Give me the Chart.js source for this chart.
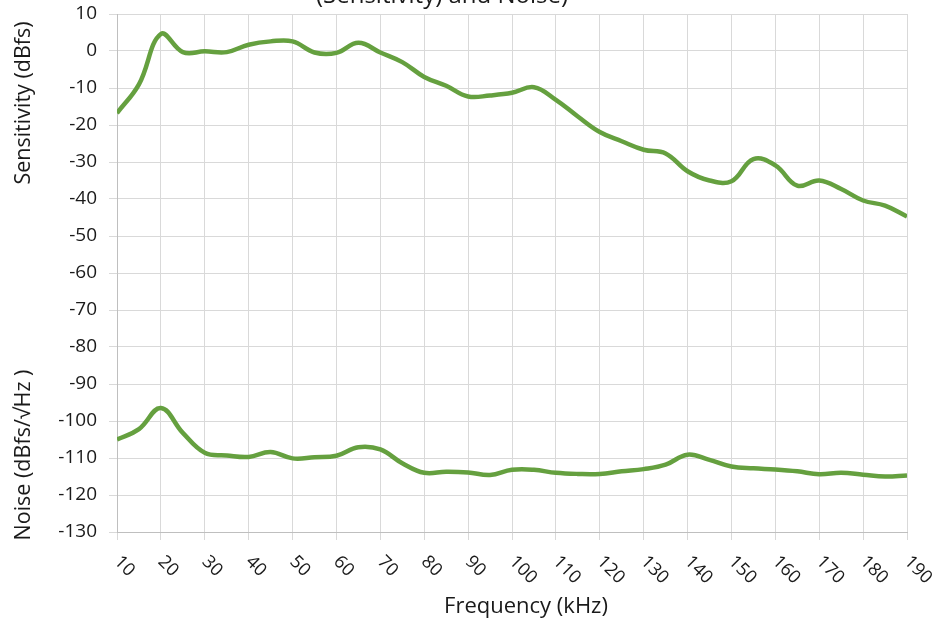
<!DOCTYPE html>
<html lang="en">
<head>
    <meta charset="UTF-8">
    <title>Sensitivity and Noise</title>
    <script src="https://cdn.jsdelivr.net/npm/chart.js@4.4.1/dist/chart.umd.min.js"></script>
    <style>
        html, body { margin: 0; padding: 0; background: #fff; overflow: hidden; }
        #wrap { width: 936px; height: 626px; position: relative; }
    </style>
</head>
<body>
<div id="wrap"><canvas id="myChart"></canvas></div>

<script>
    // frequency points (kHz)
    const freqs = [10, 15, 20, 25, 30, 35, 40, 45, 50, 55, 60, 65, 70, 75, 80, 85, 90, 95, 100,
                   105, 110, 115, 120, 125, 130, 135, 140, 145, 150, 155, 160, 165, 170, 175, 180, 185, 190];

    // sensitivity (dBfs)
    const sensitivity = [-16.8, -9.0, 4.6, -0.3, -0.1, -0.3, 1.7, 2.6, 2.6, -0.4, -0.5, 2.2, -0.4, -3.0, -7.0, -9.4, -12.3, -12.0, -11.3,
                         -9.8, -13.2, -17.7, -21.9, -24.4, -26.7, -27.7, -32.5, -35.0, -35.2, -29.2, -30.9, -36.4, -35.0, -37.3, -40.4, -41.8, -44.7];

    // noise (dBfs/sqrt(Hz))
    const noise = [-105.0, -102.2, -96.5, -103.2, -108.6, -109.3, -109.7, -108.4, -110.1, -109.8, -109.4, -107.1, -107.7, -111.4, -114.0, -113.7, -113.9, -114.6, -113.2,
                   -113.2, -114.0, -114.3, -114.3, -113.6, -113.0, -111.8, -109.1, -110.5, -112.3, -112.8, -113.1, -113.6, -114.4, -114.0, -114.5, -115.0, -114.7];

    const xTickLabels = [10, 20, 30, 40, 50, 60, 70, 80, 90, 100, 110, 120, 130, 140, 150, 160, 170, 180, 190];

    const chartTitle = '(Sensitivity) and Noise)';
    const sensTitle = 'Sensitivity (dBfs)';
    const noiseTitle = 'Noise (dBfs/\u221AHz )';
    const xTitle = 'Frequency (kHz)';

    const lineColor = '#65a03f';
    const textColor = '#1a1a1a';
    const fontFamily = '"Open Sans", "Liberation Sans", sans-serif';

    function toPoints(ys) {
        return freqs.map((f, i) => ({ x: f, y: ys[i] }));
    }

    // draws the texts that chart.js can't place the way the reference does
    const textPlugin = {
        id: 'extraText',
        afterDraw(chart) {
            const ctx = chart.ctx;
            const xs = chart.scales.x;
            ctx.save();
            ctx.fillStyle = textColor;

            // cut off title at top
            ctx.font = '24px ' + fontFamily;
            ctx.textAlign = 'center';
            ctx.textBaseline = 'alphabetic';
            ctx.fillText(chartTitle, 442, 3);

            // x title
            ctx.font = '22px ' + fontFamily;
            ctx.textBaseline = 'middle';
            ctx.fillText(xTitle, 526, 607);

            // two y titles
            ctx.font = '21.5px ' + fontFamily;
            ctx.save();
            ctx.translate(24, 103);
            ctx.rotate(-Math.PI / 2);
            ctx.fillText(sensTitle, 0, 0);
            ctx.restore();
            ctx.save();
            ctx.translate(24, 455);
            ctx.rotate(-Math.PI / 2);
            ctx.fillText(noiseTitle, 0, 0);
            ctx.restore();

            // rotated x tick labels (clockwise)
            ctx.font = '18px ' + fontFamily;
            ctx.textAlign = 'left';
            ctx.textBaseline = 'middle';
            xTickLabels.forEach(v => {
                const px = xs.getPixelForValue(v);
                ctx.save();
                ctx.translate(px, 559);
                ctx.rotate(Math.PI / 4);
                ctx.fillText(String(v), 0, 0);
                ctx.restore();
            });
            ctx.restore();
        }
    };

    const ctx = document.getElementById('myChart').getContext('2d');
    const myChart = new Chart(ctx, {
        type: 'line',
        data: {
            datasets: [
                {
                    label: 'Sensitivity',
                    data: toPoints(sensitivity),
                    borderColor: lineColor,
                    borderWidth: 4.5,
                    pointRadius: 0,
                    tension: 0.4,
                    fill: false
                },
                {
                    label: 'Noise',
                    data: toPoints(noise),
                    borderColor: lineColor,
                    borderWidth: 4.5,
                    pointRadius: 0,
                    tension: 0.4,
                    fill: false
                }
            ]
        },
        options: {
            responsive: true,
            maintainAspectRatio: false,
            animation: false,
            layout: { padding: { top: 14, right: 29, left: 0, bottom: 0 } },
            plugins: {
                legend: { display: false },
                tooltip: { enabled: false }
            },
            scales: {
                x: {
                    type: 'linear',
                    min: 10,
                    max: 190,
                    grid: { color: '#d9d9d9', tickLength: 8, drawTicks: true },
                    border: { color: '#bfbfbf' },
                    ticks: { display: false, stepSize: 10 },
                    afterFit: scale => {
                        scale.height = 94;
                        scale.paddingLeft = 0;
                        scale.paddingRight = 0;
                    }
                },
                y: {
                    min: -130,
                    max: 10,
                    grid: { color: '#d9d9d9', tickLength: 8 },
                    border: { color: '#bfbfbf' },
                    ticks: {
                        stepSize: 10,
                        padding: 12,
                        color: textColor,
                        font: { family: fontFamily, size: 19 }
                    },
                    afterFit: scale => {
                        scale.width = 117;
                        scale.paddingTop = 0;
                        scale.paddingBottom = 0;
                    }
                }
            }
        },
        plugins: [textPlugin]
    });
</script>
</body>
</html>
